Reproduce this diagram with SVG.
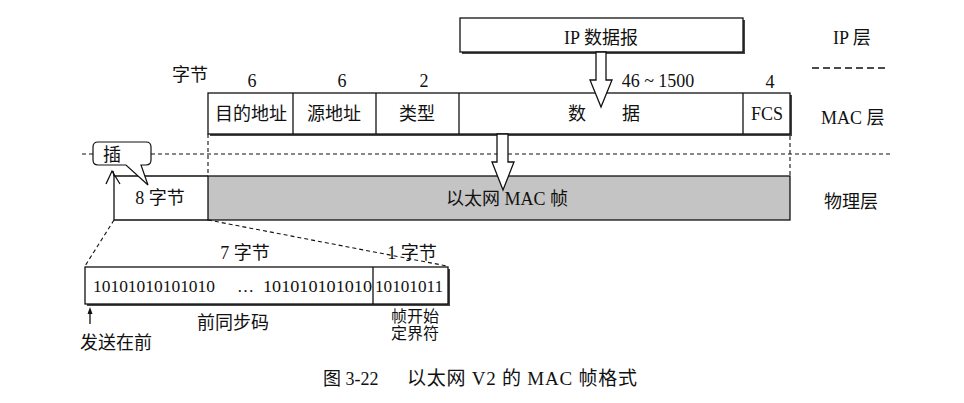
<svg xmlns="http://www.w3.org/2000/svg" width="964" height="403" viewBox="0 0 964 403">
<style>
text{font-family:"Liberation Serif","Noto Sans CJK SC",serif;font-size:18px;fill:#111}
.l{font-size:17px}
.n{font-size:18px}
.c{text-anchor:middle}
.box{fill:#fff;stroke:#111;stroke-width:1.3}
.sh{fill:#444}
.dash{fill:none;stroke:#111;stroke-width:1.1;stroke-dasharray:4 3}
.ln{fill:none;stroke:#111;stroke-width:1.3}
</style>
<g id="ip-datagram">
<rect class="sh" x="462" y="20" width="283" height="34"/>
<rect class="box" x="460" y="18" width="283" height="34"/>
<text class="c" x="601" y="44">IP 数据报</text>
</g>
<g id="layer-labels">
<text x="833" y="44">IP 层</text>
<line x1="812" y1="68" x2="885" y2="68" stroke="#111" stroke-width="1.3" stroke-dasharray="7 4"/>
<text x="821" y="124">MAC 层</text>
<text x="824" y="208">物理层</text>
</g>
<g id="byte-counts">
<text x="172" y="81">字节</text>
<text class="c n" x="252" y="87">6</text>
<text class="c n" x="342" y="87">6</text>
<text class="c n" x="424" y="87">2</text>
<text class="c n" x="658" y="87">46 ~ 1500</text>
<text class="c n" x="770" y="88">4</text>
</g>
<g id="mac-frame">
<rect class="sh" x="210" y="95" width="582" height="41"/>
<rect class="box" x="208" y="93" width="582" height="41"/>
<line class="ln" x1="293" y1="93" x2="293" y2="134"/>
<line class="ln" x1="376" y1="93" x2="376" y2="134"/>
<line class="ln" x1="459" y1="93" x2="459" y2="134"/>
<line class="ln" x1="743" y1="93" x2="743" y2="134"/>
<text class="c" x="251" y="120">目的地址</text>
<text class="c" x="334" y="120">源地址</text>
<text class="c" x="417" y="120">类型</text>
<text class="c" x="577" y="120">数</text>
<text class="c" x="631" y="120">据</text>
<text class="c" x="767" y="120">FCS</text>
</g>
<g id="physical-frame">
<rect x="208" y="176" width="582" height="44" fill="#c4c4c4" stroke="#111" stroke-width="1.3"/>
<text class="c" x="507" y="205">以太网 MAC 帧</text>
</g>
<g id="preamble-field">
<path class="ln" d="M208,176 H114 V220 H208"/>
<text class="c" x="160" y="204">8 字节</text>
</g>
<g id="connectors">
<line class="dash" x1="82" y1="154" x2="93" y2="154"/>
<line class="dash" x1="151" y1="154" x2="890" y2="154"/>
<line class="dash" x1="208" y1="134" x2="208" y2="176"/>
<line class="dash" x1="790" y1="136" x2="790" y2="176"/>
<line class="dash" x1="114" y1="220" x2="85" y2="266"/>
<line class="dash" x1="208" y1="220" x2="447" y2="266"/>
<polygon points="596,52 606,52 606,80 612,80 601,107 590,80 596,80" fill="#fff" stroke="#111" stroke-width="1.3"/>
<polygon points="497,134 508,134 508,162 514,162 503,190 492,162 497,162" fill="#fff" stroke="#111" stroke-width="1.3"/>
<line class="ln" x1="114" y1="176" x2="113" y2="171"/>
<polyline class="ln" points="106,184 112,171 120,184"/>
</g>
<g id="insert-callout">
<path d="M98,142 H146 Q151,142 151,147 V160 Q151,165 146,165 H141 L148,185 L126,165 H98 Q93,165 93,160 V147 Q93,142 98,142 Z" fill="#fff" stroke="#111" stroke-width="1.2"/>
<text class="c" x="112" y="161">插</text>
</g>
<g id="preamble-detail">
<rect class="sh" x="87" y="269" width="363" height="37"/>
<rect class="box" x="85" y="267" width="363" height="37"/>
<line class="ln" x1="373" y1="267" x2="373" y2="304"/>
<text class="l" x="93" y="292" textLength="122" lengthAdjust="spacingAndGlyphs">10101010101010</text>
<text class="l" x="237" y="292">…</text>
<text class="l" x="263" y="292" textLength="109" lengthAdjust="spacingAndGlyphs">101010101010</text>
<text class="l" x="375" y="292" textLength="68" lengthAdjust="spacingAndGlyphs">10101011</text>
<text class="c" x="245" y="259">7 字节</text>
<text class="c" x="412" y="259">1 字节</text>
<text class="c" x="233" y="329">前同步码</text>
<text class="c" x="415" y="322" style="font-size:16px">帧开始</text>
<text class="c" x="415" y="339" style="font-size:16px">定界符</text>
<line class="ln" x1="90" y1="324" x2="90" y2="312"/>
<polygon points="90,307 87.5,314 92.5,314" fill="#111"/>
<text x="80" y="349">发送在前</text>
</g>
<g id="caption">
<text x="323" y="385">图 3-22</text>
<text x="407" y="385" style="font-size:19px" textLength="230" lengthAdjust="spacing">以太网 V2 的 MAC 帧格式</text>
</g>
</svg>
